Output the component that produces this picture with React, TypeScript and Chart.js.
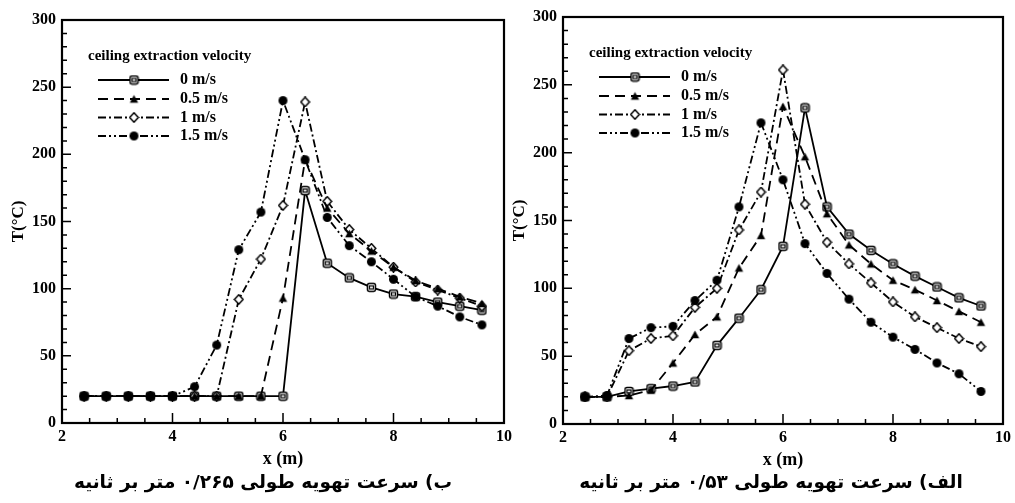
import React, { useEffect, useRef } from "react";
import { Chart, registerables } from "chart.js";

Chart.register(...registerables);

// ---------- data ----------
const X_POSITIONS = [2.4, 2.8, 3.2, 3.6, 4.0, 4.4, 4.8, 5.2, 5.6, 6.0, 6.4, 6.8, 7.2, 7.6, 8.0, 8.4, 8.8, 9.2, 9.6];
const SERIES_LABELS = ["0 m/s", "0.5 m/s", "1 m/s", "1.5 m/s"];
const LEGEND_TITLE = "ceiling extraction velocity";
const X_TITLE = "x (m)";
const Y_TITLE = "T(°C)";
const X_MIN = 2, X_MAX = 10, X_STEP = 2, X_MINOR = 0.5;
const Y_MIN = 0, Y_MAX = 300, Y_STEP = 50, Y_MINOR = 10;

// left panel (b) – longitudinal ventilation 0.265 m/s
const B_V0 = [20, 20, 20, 20, 20, 20, 20, 20, 20, 20, 173, 119, 108, 101, 96, 94, 90, 87, 84];
const B_V05 = [20, 20, 20, 20, 20, 20, 20, 20, 20, 93, 196, 160, 141, 128, 116, 106, 100, 94, 89];
const B_V1 = [20, 20, 20, 20, 20, 20, 20, 92, 122, 162, 239, 165, 144, 130, 116, 105, 99, 93, 87];
const B_V15 = [20, 20, 20, 20, 20, 27, 58, 129, 157, 240, 196, 153, 132, 120, 107, 94, 87, 79, 73];
const CAPTION_B = "ب) سرعت تهویه طولی ۰/۲۶۵ متر بر ثانیه";

// right panel (a) – longitudinal ventilation 0.53 m/s
const A_V0 = [20, 20, 24, 26, 28, 31, 58, 78, 99, 131, 233, 160, 140, 128, 118, 109, 101, 93, 87];
const A_V05 = [20, 20, 21, 25, 45, 66, 79, 115, 139, 234, 197, 155, 132, 118, 106, 99, 91, 83, 75];
const A_V1 = [20, 20, 54, 63, 65, 86, 100, 143, 171, 261, 162, 134, 118, 104, 90, 79, 71, 63, 57];
const A_V15 = [20, 21, 63, 71, 72, 91, 106, 160, 222, 180, 133, 111, 92, 75, 64, 55, 45, 37, 24];
const CAPTION_A = "الف) سرعت تهویه طولی ۰/۵۳ متر بر ثانیه";

// ---------- styles ----------
const SERIF = '"Liberation Serif", "Times New Roman", serif';
const DASHES = [[], [10, 6], [8, 3, 2, 3], [8, 3, 2, 3, 2, 3]];
const DRAW_ORDER = [4, 2, 3, 1];

function makeMarker(kind: string): HTMLCanvasElement {
  const c = document.createElement("canvas");
  const s = 11;
  c.width = s;
  c.height = s;
  const g = c.getContext("2d")!;
  g.lineWidth = 1.5;
  g.strokeStyle = "#000";
  g.fillStyle = "#000";
  if (kind === "square") {
    g.fillStyle = "#fff";
    g.beginPath();
    g.roundRect(1.5, 1.5, 8, 8, 2);
    g.fill();
    g.stroke();
    g.lineWidth = 1.2;
    g.strokeRect(3.5, 4, 4, 3);
  } else if (kind === "triangle") {
    g.beginPath();
    g.moveTo(5.5, 1.5);
    g.lineTo(9.7, 9.2);
    g.lineTo(1.3, 9.2);
    g.closePath();
    g.fill();
  } else if (kind === "diamond") {
    g.fillStyle = "#fff";
    g.beginPath();
    g.moveTo(5.5, 0.8);
    g.lineTo(9.8, 5.5);
    g.lineTo(5.5, 10.2);
    g.lineTo(1.2, 5.5);
    g.closePath();
    g.fill();
    g.stroke();
  } else {
    g.beginPath();
    g.arc(5.5, 5.5, 4.5, 0, Math.PI * 2);
    g.fill();
  }
  return c;
}

const decorPlugin = {
  id: "decor",
  afterDatasetsDraw(chart: any) {
    const ctx = chart.ctx as CanvasRenderingContext2D;
    const a = chart.chartArea;
    const xs = chart.scales.x;
    const ys = chart.scales.y;
    ctx.save();
    ctx.strokeStyle = "#000";
    ctx.setLineDash([]);
    // inward ticks
    ctx.lineWidth = 1.5;
    ctx.beginPath();
    const ny = Math.round((Y_MAX - Y_MIN) / Y_MINOR);
    for (let i = 0; i <= ny; i++) {
      const v = Y_MIN + i * Y_MINOR;
      const py = ys.getPixelForValue(v);
      const len = v % Y_STEP === 0 ? 9 : 5;
      ctx.moveTo(a.left, py);
      ctx.lineTo(a.left + len, py);
    }
    const nx = Math.round((X_MAX - X_MIN) / X_MINOR);
    for (let i = 0; i <= nx; i++) {
      const v = X_MIN + i * X_MINOR;
      const px = xs.getPixelForValue(v);
      const len = Math.abs(v / X_STEP - Math.round(v / X_STEP)) < 1e-6 ? 10 : 5;
      ctx.moveTo(px, a.bottom);
      ctx.lineTo(px, a.bottom - len);
    }
    ctx.stroke();
    // frame
    ctx.lineWidth = 2.2;
    ctx.strokeRect(a.left, a.top, a.right - a.left, a.bottom - a.top);

    // legend
    const lx = a.left;
    const ty = a.top;
    ctx.fillStyle = "#000";
    ctx.textBaseline = "middle";
    ctx.textAlign = "left";
    ctx.font = `bold 15px ${SERIF}`;
    ctx.fillText(LEGEND_TITLE, lx + 26, ty + 36);
    const rows = [60, 79, 97.5, 116];
    chart.data.datasets.forEach((ds: any, i: number) => {
      const y = ty + rows[i];
      ctx.lineWidth = 2;
      ctx.setLineDash(ds.borderDash || []);
      ctx.beginPath();
      ctx.moveTo(lx + 36, y);
      ctx.lineTo(lx + 107, y);
      ctx.stroke();
      ctx.setLineDash([]);
      const m = ds.pointStyle as HTMLCanvasElement;
      ctx.drawImage(m, lx + 72 - m.width / 2, y - m.height / 2);
      ctx.font = `bold 16px ${SERIF}`;
      ctx.fillText(ds.label, lx + 118, y);
    });
    ctx.restore();
  },
};

function buildConfig(series: number[][], yWidth: number, yTitlePad: number, padTop: number, padBottom: number, padRight: number) {
  const markers = ["square", "triangle", "diamond", "circle"].map(makeMarker);
  return {
    type: "line",
    data: {
      datasets: series.map((vals, i) => ({
        label: SERIES_LABELS[i],
        data: X_POSITIONS.map((x, j) => ({ x, y: vals[j] })),
        borderColor: "#000",
        backgroundColor: "#000",
        borderWidth: 1.8,
        borderDash: DASHES[i],
        pointStyle: markers[i],
        pointRadius: 4,
        pointHoverRadius: 4,
        fill: false,
        tension: 0,
        order: DRAW_ORDER[i],
      })),
    },
    options: {
      animation: false,
      responsive: false,
      devicePixelRatio: 1,
      events: [],
      layout: { padding: { left: 0, top: padTop, right: padRight, bottom: padBottom } },
      plugins: { legend: { display: false }, tooltip: { enabled: false } },
      scales: {
        x: {
          type: "linear",
          min: X_MIN,
          max: X_MAX,
          grid: { display: false, drawTicks: false },
          border: { display: false },
          ticks: {
            stepSize: X_STEP,
            padding: 4,
            color: "#000",
            font: { family: SERIF, size: 16, weight: "bold" },
          },
          title: {
            display: true,
            text: X_TITLE,
            color: "#000",
            padding: { top: 0, bottom: 0 },
            font: { family: SERIF, size: 18, weight: "bold", lineHeight: 1.0 },
          },
          afterFit: (s: any) => {
            s.height = 45;
          },
        },
        y: {
          type: "linear",
          min: Y_MIN,
          max: Y_MAX,
          grid: { display: false, drawTicks: false },
          border: { display: false },
          ticks: {
            stepSize: Y_STEP,
            padding: 6,
            color: "#000",
            font: { family: SERIF, size: 16, weight: "bold" },
          },
          title: {
            display: true,
            text: Y_TITLE,
            color: "#000",
            padding: { top: yTitlePad, bottom: 0 },
            font: { family: SERIF, size: 17, weight: "bold", lineHeight: 1.2 },
          },
          afterFit: (s: any) => {
            s.width = yWidth;
          },
        },
      },
    },
    plugins: [decorPlugin],
  } as any;
}

export default function App() {
  const leftRef = useRef<HTMLCanvasElement>(null);
  const rightRef = useRef<HTMLCanvasElement>(null);

  useEffect(() => {
    document.body.style.margin = "0";
    document.body.style.background = "#fff";
    const left = new Chart(leftRef.current!, buildConfig([B_V0, B_V05, B_V1, B_V15], 62, 8, 20, 35, 16));
    const right = new Chart(rightRef.current!, buildConfig([A_V0, A_V05, A_V1, A_V15], 65, 11, 17, 34, 9));
    return () => {
      left.destroy();
      right.destroy();
    };
  }, []);

  const captionStyle: React.CSSProperties = {
    position: "absolute",
    top: 468,
    width: 500,
    textAlign: "center",
    fontFamily: '"DejaVu Sans", sans-serif',
    fontWeight: "bold",
    fontSize: 18.5,
    lineHeight: "28px",
    color: "#000",
    whiteSpace: "nowrap",
  };

  return (
    <div style={{ position: "relative", width: 1015, height: 503, overflow: "hidden", background: "#fff" }}>
      <canvas ref={leftRef} width={520} height={503} style={{ position: "absolute", left: 0, top: 0 }} />
      <canvas ref={rightRef} width={517} height={503} style={{ position: "absolute", left: 498, top: 0 }} />
      <div dir="rtl" style={{ ...captionStyle, left: 263 - 250 }}>{CAPTION_B}</div>
      <div dir="rtl" style={{ ...captionStyle, left: 771 - 250 }}>{CAPTION_A}</div>
    </div>
  );
}
